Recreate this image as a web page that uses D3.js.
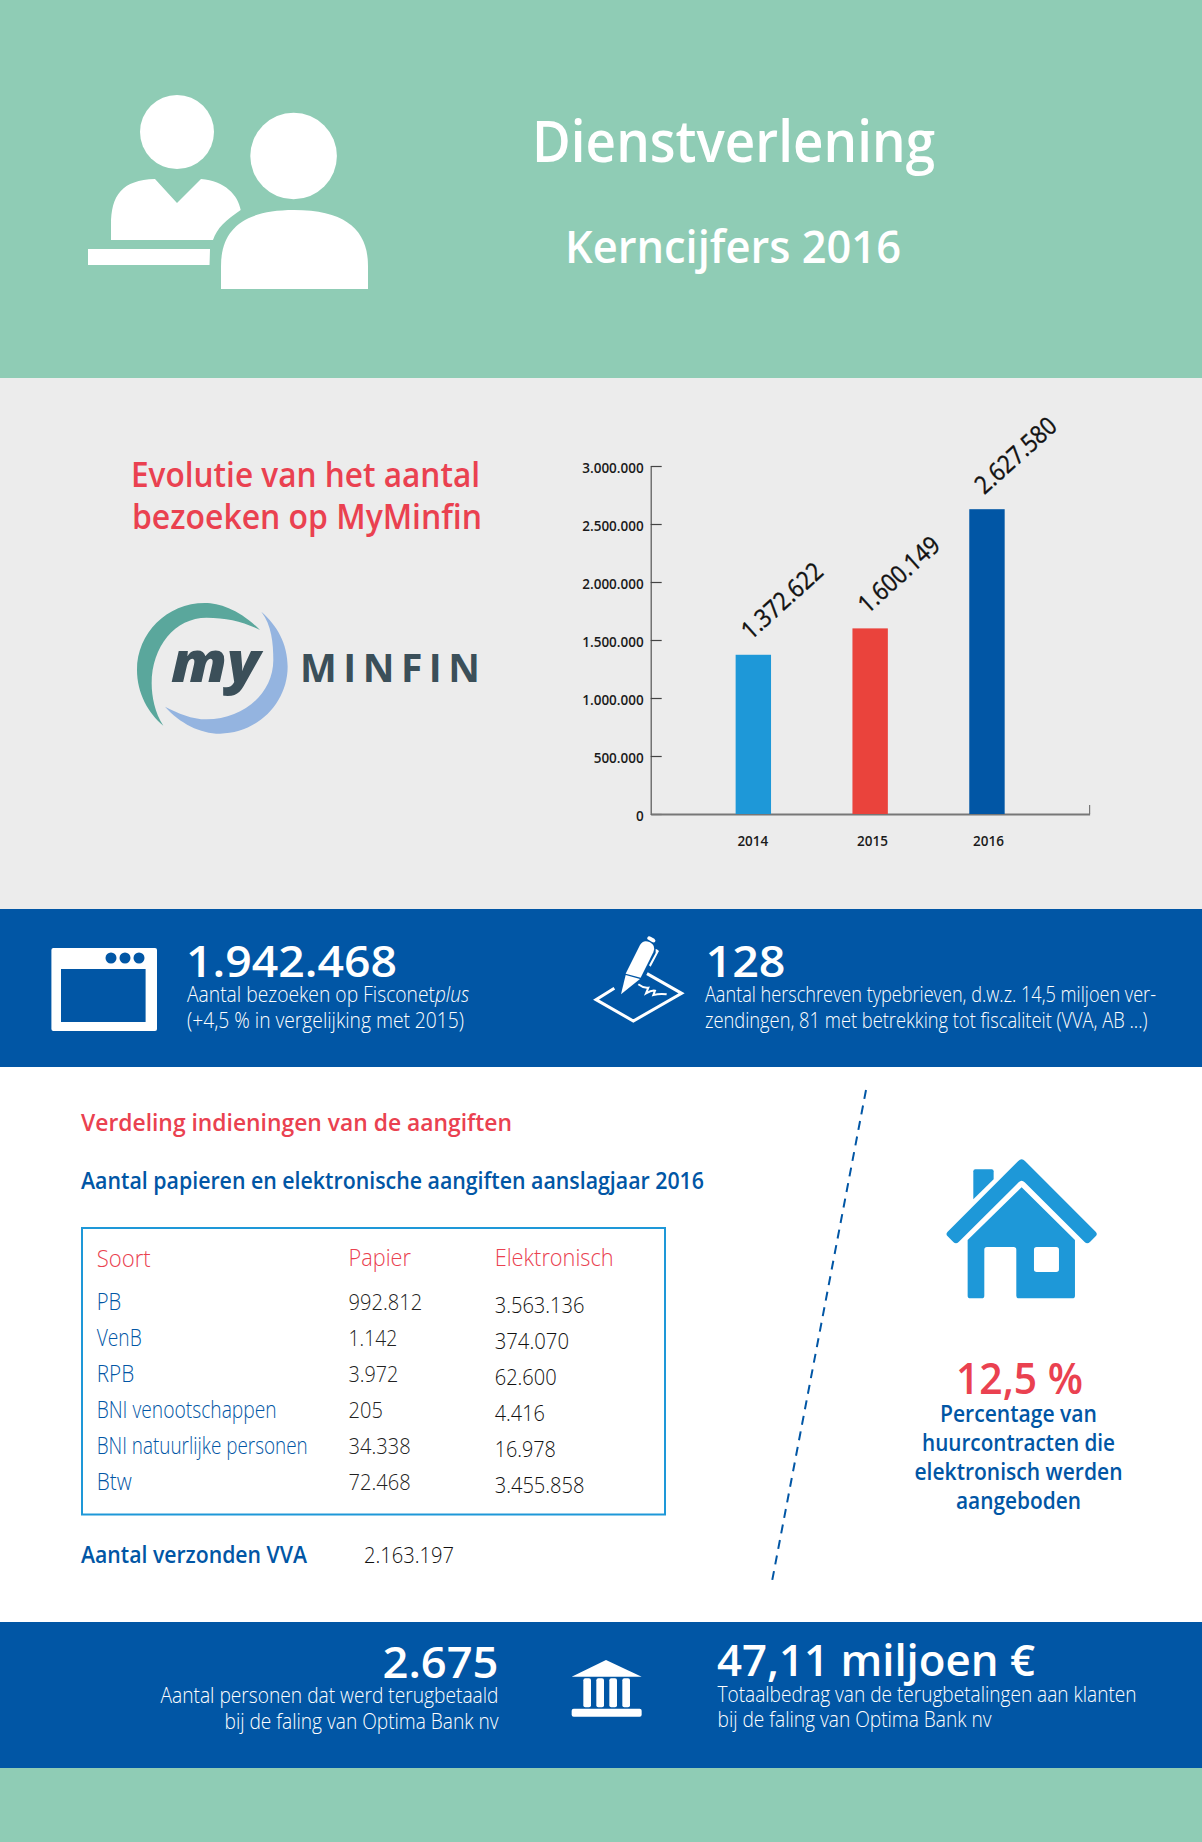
<!DOCTYPE html>
<html>
<head>
<meta charset="utf-8">
<script src="https://cdn.jsdelivr.net/npm/d3@7"></script>
<style>
html, body { margin: 0; padding: 0; background: #fff; }
svg { display: block; }
text { font-family: "Open Sans", sans-serif; }
</style>
</head>
<body>
<script>
const width = 1202;
const height = 1842;

const green = '#8fccb5';
const grey = '#ececec';
const blue = '#0156a5';
const lightBlue = '#1e98d8';
const red = '#ea4150';

// bar chart data
const years = ['2014', '2015', '2016'];
const visits = [1372622, 1600149, 2627580];
const barColors = ['#1e98d8', '#ea433c', '#0156a5'];
const yTicks = [0, 500000, 1000000, 1500000, 2000000, 2500000, 3000000];

// table data
const soort = ['PB', 'VenB', 'RPB', 'BNI venootschappen', 'BNI natuurlijke personen', 'Btw'];
const papier = [992812, 1142, 3972, 205, 34338, 72468];
const elektronisch = [3563136, 374070, 62600, 4416, 16978, 3455858];
const soortWidths = [24.5, 45, 37.5, 180, 211, 35];
const papierWidths = [73.5, 48.6, 49.8, 34.3, 62, 62];
const elektronischWidths = [89.8, 74.3, 62, 50.2, 61.2, 89.8];
const verzondenVVA = 2163197;

const nl = d3.formatLocale({ decimal: ',', thousands: '.', grouping: [3], currency: ['', ' €'] });
const fmt = nl.format(',d');

const svg = d3.select('body').append('svg')
    .attr('width', width)
    .attr('height', height);

// background bands
const bands = [
    { y0: 0, y1: 378, c: green },
    { y0: 378, y1: 909, c: grey },
    { y0: 909, y1: 1067, c: blue },
    { y0: 1067, y1: 1622, c: '#fff' },
    { y0: 1622, y1: 1768, c: blue },
    { y0: 1768, y1: 1842, c: green }
];
svg.selectAll('rect.band').data(bands).enter().append('rect')
    .attr('class', 'band')
    .attr('x', 0).attr('width', width)
    .attr('y', d => d.y0).attr('height', d => d.y1 - d.y0)
    .attr('fill', d => d.c);

// text helper, w squeezes the string to the width measured on the reference
function label(x, y, str, o) {
    const t = svg.append('text')
        .attr('x', x).attr('y', y)
        .attr('fill', o.fill || '#fff')
        .attr('font-size', o.size)
        .attr('font-weight', o.weight || 300)
        .attr('text-anchor', o.anchor || 'start')
        .text(str);
    if (o.w) t.attr('textLength', o.w).attr('lengthAdjust', o.adjust || 'spacingAndGlyphs');
    if (o.style) t.attr('font-style', o.style);
    return t;
}

// header
label(532, 162, 'Dienstverlening', { size: 58, weight: 600, w: 403 });
label(565, 263, 'Kerncijfers 2016', { size: 46, weight: 600, w: 336 });

const people = svg.append('g').attr('fill', '#fff');
people.append('circle').attr('cx', 177).attr('cy', 132).attr('r', 37);
people.append('circle').attr('cx', 293.6).attr('cy', 156).attr('r', 43.3);
people.append('path').attr('d', 'M221,289 L221,266 C221,232 240,210 294,210 C348,210 368,232 368,266 L368,289 Z');
people.append('path').attr('d', 'M111,240 L111,225 C111,195 122,180 155,179 L177,203 L201,179 C225,181 238,195 240.7,210 C226,220 217,228 213,240 Z');
people.append('path').attr('d', 'M88,249 L210,249 L209.5,265 L88,265 Z');

// section title + logo
label(131, 487, 'Evolutie van het aantal', { size: 34, weight: 600, fill: red, w: 349 });
label(132, 529, 'bezoeken op MyMinfin', { size: 34, weight: 600, fill: red, w: 350 });

const logo = svg.append('g').attr('transform', 'translate(100,430) scale(0.3333)');
logo.append('path').attr('fill', '#5aa79c')
    .attr('d', 'M480,600 C420,540 360,519 315,519 C200,519 111,610 111,720 C111,790 145,850 190,887 C165,850 155,800 155,760 C155,650 225,563 320,563 C380,563 430,575 480,600 Z');
logo.append('path').attr('fill', '#94b4e0')
    .attr('d', 'M484,545 C515,585 520,640 520,690 C520,790 430,868 320,868 C275,868 235,850 195,830 C240,880 300,911 360,911 C470,911 563,820 563,710 C563,640 530,585 484,545 Z');
label(171, 682, 'my', { size: 56, weight: 800, fill: '#3b4f59', style: 'italic', w: 89 });
label(300, 682, 'MINFIN', { size: 39, weight: 700, fill: '#3b4f59', w: 180, adjust: 'spacing' });

// bar chart
const yScale = d3.scaleLinear()
    .domain([0, 3000000])
    .range([814, 466]);
const xScale = d3.scaleBand()
    .domain(years)
    .range([650.7, 1089.6])
    .paddingInner(0.697)
    .paddingOuter(0.727);

const yAxis = d3.axisLeft(yScale)
    .tickValues(yTicks)
    .tickFormat(fmt)
    .tickSizeInner(-11)
    .tickSizeOuter(0)
    .tickPadding(7);
const gy = svg.append('g')
    .attr('transform', 'translate(650.7,0)')
    .call(yAxis);
gy.select('.domain').attr('stroke', '#555').attr('stroke-width', 1.2);
gy.selectAll('.tick line').attr('stroke', '#444').attr('stroke-width', 1.2);
gy.selectAll('.tick text')
    .attr('font-size', 13.5)
    .attr('font-weight', 600)
    .attr('fill', '#1a1a1a')
    .attr('dy', '0.62em')
    .attr('y', -1.5);

const xAxis = d3.axisBottom(xScale).tickSize(0).tickPadding(22);
const gx = svg.append('g')
    .attr('transform', 'translate(0,814)')
    .call(xAxis);
gx.select('.domain').attr('stroke', '#777').attr('stroke-width', 2);
gx.selectAll('.tick text')
    .attr('font-size', 13.5)
    .attr('font-weight', 600)
    .attr('fill', '#1a1a1a')
    .attr('dx', (d, i) => [-0.5, 2.3, 1.5][i]);
// small upward end cap on the x axis
gx.append('line')
    .attr('x1', 1089.6).attr('x2', 1089.6)
    .attr('y1', 0).attr('y2', -9)
    .attr('stroke', '#777').attr('stroke-width', 1.2);

svg.selectAll('rect.bar').data(visits).enter().append('rect')
    .attr('class', 'bar')
    .attr('x', (d, i) => xScale(years[i]))
    .attr('width', xScale.bandwidth())
    .attr('y', d => yScale(d))
    .attr('height', d => yScale(0) - yScale(d))
    .attr('fill', (d, i) => barColors[i]);

svg.selectAll('text.value').data(visits).enter().append('text')
    .attr('class', 'value')
    .attr('transform', (d, i) => 'translate(' + (xScale(years[i]) + 15) + ',' + (yScale(d) - 14) + ') rotate(-42)')
    .attr('font-size', 25)
    .attr('font-weight', 400)
    .attr('fill', '#111')
    .attr('stroke', '#111')
    .attr('stroke-width', 0.4)
    .attr('textLength', 100)
    .attr('lengthAdjust', 'spacingAndGlyphs')
    .text(d => fmt(d));

// first blue band
const browser = svg.append('g');
browser.append('rect').attr('x', 51.4).attr('y', 948).attr('width', 105.6).attr('height', 83).attr('rx', 2).attr('fill', '#fff');
browser.append('rect').attr('x', 61).attr('y', 969).attr('width', 84.6).attr('height', 53).attr('fill', blue);
browser.selectAll('circle').data(['a', 'b', 'c']).enter().append('circle')
    .attr('cx', (d, i) => 111 + i * 14)
    .attr('cy', 958)
    .attr('r', 5.5)
    .attr('fill', blue);

label(186, 977, '1.942.468', { size: 43, weight: 600, w: 211 });
label(187, 1002, 'Aantal bezoeken op Fisconet', { size: 22, w: 248 });
label(435, 1002, 'plus', { size: 22, style: 'italic', w: 34 });
label(187, 1028, '(+4,5 % in vergelijking met 2015)', { size: 22, w: 277 });

const pen = svg.append('g').attr('transform', 'translate(585,925) scale(0.3333)').attr('fill', '#fff');
pen.append('path').attr('d', 'M108,208 L122,150 L165,162 Z');
pen.append('path').attr('d', 'M122,146 L165,60 Q175,42 195,52 Q214,62 205,82 L167,158 Z');
pen.append('path').attr('d', 'M187,38 Q190,32 197,35 L208,41 Q214,46 210,51 Q206,54 200,50 L190,44 Q185,42 187,38 Z');
pen.append('path').attr('d', 'M212,72 Q216,72 222,78 L197,125 L192,121 L212,84 Z');
pen.append('path').attr('fill', 'none').attr('stroke', '#fff').attr('stroke-width', 9)
    .attr('d', 'M88,190 L33,224 L145,288 L290,205 L186,146');
pen.append('path').attr('fill', 'none').attr('stroke', '#fff').attr('stroke-width', 6)
    .attr('d', 'M160,178 Q175,190 190,188 L183,205 Q200,195 210,197 L205,210 Q225,205 245,208');

label(705.5, 977, '128', { size: 43, weight: 600, w: 80 });
label(705, 1002, 'Aantal herschreven typebrieven, d.w.z. 14,5 miljoen ver-', { size: 22, w: 451 });
label(705, 1028, 'zendingen, 81 met betrekking tot fiscaliteit (VVA, AB ...)', { size: 22, w: 442.5 });

// table section
label(81, 1130.7, 'Verdeling indieningen van de aangiften', { size: 24, weight: 600, fill: red, w: 431 });
label(81, 1189, 'Aantal papieren en elektronische aangiften aanslagjaar 2016', { size: 24, weight: 600, fill: blue, w: 623 });

svg.append('rect')
    .attr('x', 82).attr('y', 1228)
    .attr('width', 583).attr('height', 286.5)
    .attr('fill', 'none')
    .attr('stroke', lightBlue)
    .attr('stroke-width', 2);

label(96.7, 1266.7, 'Soort', { size: 24, fill: red, w: 54 });
label(348.6, 1265.7, 'Papier', { size: 24, fill: red, w: 62.4 });
label(494.7, 1265.7, 'Elektronisch', { size: 24, fill: red, w: 119 });

const rowY = d3.scalePoint().domain(soort).range([1310, 1490]);

soort.forEach((s, i) => {
    label(96.7, rowY(s), s, { size: 23, fill: blue, w: soortWidths[i] });
    label(348.6, rowY(s), fmt(papier[i]), { size: 22, fill: '#222', w: papierWidths[i] });
    label(494.7, rowY(s) + 2.7, fmt(elektronisch[i]), { size: 22, fill: '#111', w: elektronischWidths[i] });
});

label(81, 1563.3, 'Aantal verzonden VVA', { size: 24, weight: 600, fill: blue, w: 226 });
label(364, 1563.3, fmt(verzondenVVA), { size: 22, fill: '#111', w: 90 });

// dashed divider
svg.append('line')
    .attr('x1', 866).attr('y1', 1090)
    .attr('x2', 771.7).attr('y2', 1583)
    .attr('stroke', blue)
    .attr('stroke-width', 2)
    .attr('stroke-dasharray', '9 6.8');

// house
const house = svg.append('g').attr('transform', 'translate(750,1080) scale(0.3333)').attr('fill', lightBlue);
house.append('path').attr('d', 'M805,243 Q815,233 825,243 L1037,455 Q1044,462 1037,469 L1020,486 Q1012,494 1004,486 L824,307 Q815,298 806,307 L626,486 Q618,494 610,486 L593,469 Q586,462 593,455 Z');
house.append('path').attr('d', 'M670,274 Q670,268 676,268 L725,268 Q731,268 731,274 L731,298 L670,358 Z');
house.append('path').attr('fill-rule', 'evenodd')
    .attr('d', 'M815,322 L975,480 L975,647 Q975,655 967,655 L807,655 Q799,655 799,647 L799,509 Q799,501 791,501 L711,501 Q703,501 703,509 L703,647 Q703,655 695,655 L661,655 Q653,655 653,647 L653,480 Z M860,501 Q852,501 852,509 L852,568 Q852,576 860,576 L919,576 Q927,576 927,568 L927,509 Q927,501 919,501 Z');

label(956, 1394, '12,5 %', { size: 44, weight: 600, fill: red, w: 127 });
const huurLines = ['Percentage van', 'huurcontracten die', 'elektronisch werden', 'aangeboden'];
const huurWidths = [157, 193, 208, 125];
huurLines.forEach((s, i) => {
    label(1018.5, 1421.7 + i * 29.1, s, { size: 23, weight: 600, fill: blue, anchor: 'middle', w: huurWidths[i] });
});

// bottom blue band
label(498.5, 1677.7, '2.675', { size: 43, weight: 600, anchor: 'end', w: 116 });
label(498.5, 1702.7, 'Aantal personen dat werd terugbetaald', { size: 22, anchor: 'end', w: 338 });
label(498.5, 1729, 'bij de faling van Optima Bank nv', { size: 22, anchor: 'end', w: 274 });

const bank = svg.append('g').attr('transform', 'translate(560,1650) scale(0.3333)').attr('fill', '#fff');
bank.append('path').attr('d', 'M138,30 L245,80 L35,80 Z');
bank.selectAll('rect.col').data([70, 109, 148, 187]).enter().append('rect')
    .attr('class', 'col')
    .attr('x', d => d).attr('y', 85)
    .attr('width', 23).attr('height', 87)
    .attr('rx', 6);
bank.append('rect').attr('x', 35).attr('y', 176).attr('width', 210).attr('height', 24).attr('rx', 6);

label(717, 1676, '47,11 miljoen €', { size: 44, weight: 600, w: 318 });
label(717.5, 1701.7, 'Totaalbedrag van de terugbetalingen aan klanten', { size: 22, w: 419 });
label(717.5, 1726.7, 'bij de faling van Optima Bank nv', { size: 22, w: 274 });
</script>
</body>
</html>
